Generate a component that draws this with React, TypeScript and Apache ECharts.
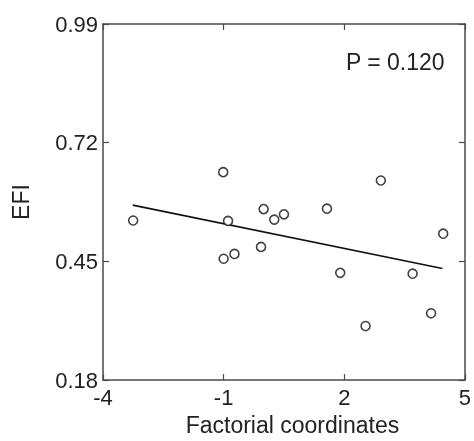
import React, { useEffect, useRef } from "react";
import * as echarts from "echarts";

const factorialX = [-3.25, -1.01, -0.89, -1.0, -0.73, -0.07, -0.005, 0.26, 0.5, 1.57, 1.9, 2.53, 2.91, 3.7, 4.16, 4.46];
const efiY = [0.543, 0.653, 0.542, 0.456, 0.467, 0.483, 0.569, 0.545, 0.557, 0.57, 0.424, 0.303, 0.634, 0.422, 0.332, 0.513];
const fitX = [-3.26, 4.44];
const fitY = [0.578, 0.434];
const xTicks = [-4, -1, 2, 5];
const yTicks = [0.18, 0.45, 0.72, 0.99];
const pLabel = "P = 0.120";

export default function App() {
  const ref = useRef<HTMLDivElement>(null);
  useEffect(() => {
    const chart = echarts.init(ref.current!, null, { renderer: "svg" });
    const font = "Liberation Sans, Arial, sans-serif";
    const axisColor = "#4a4a4a";
    const textColor = "#222";
    const common = {
      axisLine: { show: true, onZero: false, lineStyle: { color: axisColor, width: 1.5 } },
      axisTick: { show: true, inside: true, length: 6, lineStyle: { color: axisColor, width: 1.2 } },
      splitLine: { show: false },
    };
    chart.setOption({
      animation: false,
      grid: { left: 103, right: 9, top: 24, bottom: 54, containLabel: false },
      xAxis: [
        {
          type: "value",
          min: xTicks[0],
          max: xTicks[xTicks.length - 1],
          interval: 3,
          position: "bottom",
          ...common,
          axisLabel: {
            color: textColor,
            fontFamily: font,
            fontSize: 22,
            lineHeight: 18,
            margin: 8,
            showMaxLabel: true,
            showMinLabel: true,
          },
          name: "Factorial coordinates",
          nameLocation: "middle",
          nameGap: 30,
          nameTextStyle: { color: textColor, fontFamily: font, fontSize: 23, padding: [0, 0, 0, 17] },
        },
        {
          type: "value",
          min: xTicks[0],
          max: xTicks[xTicks.length - 1],
          interval: 3,
          position: "top",
          ...common,
          axisLabel: { show: false },
        },
      ],
      yAxis: [
        {
          type: "value",
          min: yTicks[0],
          max: yTicks[yTicks.length - 1],
          interval: 0.27,
          position: "left",
          ...common,
          axisLabel: {
            color: textColor,
            fontFamily: font,
            fontSize: 22,
            lineHeight: 16,
            margin: 5,
            formatter: (v: number) => v.toFixed(2),
          },
          name: "EFI",
          nameLocation: "middle",
          nameGap: 71,
          nameTextStyle: { color: textColor, fontFamily: font, fontSize: 23 },
        },
        {
          type: "value",
          min: yTicks[0],
          max: yTicks[yTicks.length - 1],
          interval: 0.27,
          position: "right",
          ...common,
          axisLabel: { show: false },
        },
      ],
      series: [
        {
          type: "line",
          data: fitX.map((x, i) => [x, fitY[i]]),
          showSymbol: false,
          symbol: "none",
          lineStyle: { color: "#111", width: 1.6 },
          z: 2,
        },
        {
          type: "scatter",
          data: factorialX.map((x, i) => [x, efiY[i]]),
          symbol: "circle",
          symbolSize: 9,
          itemStyle: { color: "#fff", borderColor: "#111", borderWidth: 1.6 },
          z: 3,
        },
      ],
      graphic: [
        {
          type: "text",
          right: 29,
          top: 50,
          style: { text: pLabel, fill: textColor, font: `23px ${font}` },
        },
      ],
    });
    return () => chart.dispose();
  }, []);
  return <div ref={ref} style={{ position: "fixed", left: 0, top: 0, width: 474, height: 441 }} />;
}
